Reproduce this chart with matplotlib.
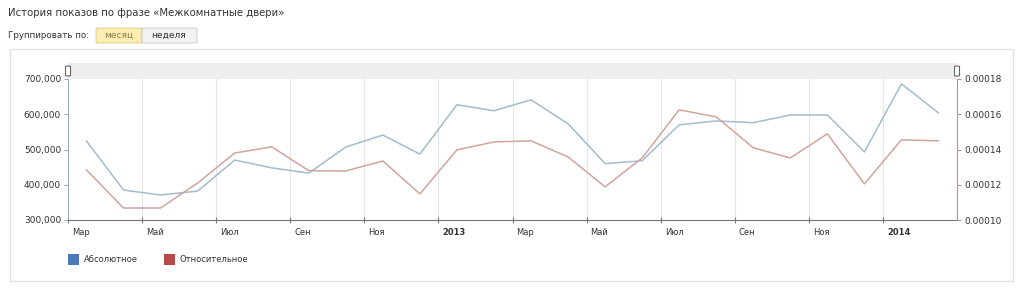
import matplotlib
matplotlib.use("Agg")
import matplotlib.pyplot as plt
import matplotlib.transforms as mtransforms
from matplotlib.patches import Rectangle, FancyBboxPatch
from matplotlib.ticker import FuncFormatter

# Monthly data, Mar 2012 .. Feb 2014
months = ["2012-03", "2012-04", "2012-05", "2012-06", "2012-07", "2012-08",
          "2012-09", "2012-10", "2012-11", "2012-12", "2013-01", "2013-02",
          "2013-03", "2013-04", "2013-05", "2013-06", "2013-07", "2013-08",
          "2013-09", "2013-10", "2013-11", "2013-12", "2014-01", "2014-02"]
absolute = [524000, 385000, 371000, 382000, 470000, 448000, 433000, 507000,
            541000, 487000, 627000, 610000, 641000, 573000, 460000, 468000,
            570000, 581000, 576000, 598000, 598000, 493000, 686000, 604000]
relative = [0.0001284, 0.0001068, 0.0001068, 0.000121, 0.000138, 0.0001415,
            0.000128, 0.0001278, 0.0001335, 0.0001148, 0.0001398, 0.0001443,
            0.0001449, 0.0001358, 0.0001188, 0.0001352, 0.0001625, 0.0001585,
            0.000141, 0.0001352, 0.0001489, 0.0001205, 0.0001455, 0.0001449]
tick_labels = ["Мар", "Май", "Июл", "Сен", "Ноя", "2013",
               "Мар", "Май", "Июл", "Сен", "Ноя", "2014"]
left_ticks = [300000, 400000, 500000, 600000, 700000]
right_ticks = [0.00010, 0.00012, 0.00014, 0.00016, 0.00018]

BLUE_LINE = "#a3bccd"
RED_LINE = "#cfa59f"
TXT = "#333333"

W, H = 1024, 291
fig = plt.figure(figsize=(W / 100, H / 100), dpi=100)
fig.patch.set_facecolor("white")


def fx(px):
    return px / W


def fy(py):
    return 1 - py / H


# header texts
fig.text(fx(8), fy(13), "История показов по фразе «Межкомнатные двери»",
         fontsize=7.3, color=TXT, va="center", ha="left")
fig.text(fx(8), fy(35), "Группировать по:", fontsize=6.3, color=TXT,
         va="center", ha="left")
fig.patches.append(FancyBboxPatch((fx(96), fy(43)), fx(46), 15 / H,
                                  boxstyle="round,pad=0,rounding_size=0.002",
                                  transform=fig.transFigure, facecolor="#fbeeb0",
                                  edgecolor="#d9c98a", linewidth=0.6))
fig.patches.append(FancyBboxPatch((fx(142), fy(43)), fx(55), 15 / H,
                                  boxstyle="round,pad=0,rounding_size=0.002",
                                  transform=fig.transFigure, facecolor="#f2f2f2",
                                  edgecolor="#c8c8c8", linewidth=0.6))
fig.text(fx(119), fy(35.5), "месяц", fontsize=6.5, color="#8a7a4a",
         va="center", ha="center")
fig.text(fx(169), fy(35.5), "неделя", fontsize=6.5, color=TXT,
         va="center", ha="center")

# outer panel
fig.patches.append(Rectangle((fx(10), fy(281)), fx(1003), (281 - 49) / H,
                             transform=fig.transFigure, facecolor="none",
                             edgecolor="#e2e2e2", linewidth=1.0))

# range band above the plot
fig.patches.append(Rectangle((fx(68), fy(79)), fx(889), 16 / H,
                             transform=fig.transFigure, facecolor="#eeeeee",
                             edgecolor="none"))
for hx in (68, 957):
    fig.patches.append(FancyBboxPatch((fx(hx - 2.5), fy(76)), fx(5), 10 / H,
                                      boxstyle="round,pad=0,rounding_size=0.002",
                                      transform=fig.transFigure,
                                      facecolor="white", edgecolor="#666666",
                                      linewidth=0.8))

ax = fig.add_axes([fx(68), fy(220), fx(889), (220 - 79) / H])
ax2 = ax.twinx()

x = [i + 0.5 for i in range(len(months))]
ax.plot(x, absolute, color=BLUE_LINE, linewidth=1.1)
ax2.plot(x, relative, color=RED_LINE, linewidth=1.1)

ax.set_xlim(0, 24)
ax.set_ylim(300000, 700000)
ax2.set_ylim(0.0001, 0.00018)

xt = list(range(0, 24, 2))
ax.set_xticks(xt)
ax.set_xticklabels(tick_labels, fontsize=6, color=TXT, ha="left")
ax.tick_params(axis="x", direction="inout", length=5, color="#777777",
               pad=3)
offset = mtransforms.ScaledTranslation(4 / 100, 0, fig.dpi_scale_trans)
for lbl in ax.get_xticklabels():
    if lbl.get_text() in ("2013", "2014"):
        lbl.set_fontweight("bold")
    lbl.set_transform(lbl.get_transform() + offset)

for t in xt[1:]:
    ax.axvline(t, color="#e6e6e6", linewidth=0.8, zorder=0)

ax.set_yticks(left_ticks)
ax.yaxis.set_major_formatter(FuncFormatter(lambda v, p: f"{int(v):,}"))
ax.tick_params(axis="y", labelsize=6.5, labelcolor=TXT, length=3,
               color="#9aa9b5", pad=2)
ax2.set_yticks(right_ticks)
ax2.yaxis.set_major_formatter(FuncFormatter(lambda v, p: f"{v:.5f}"))
ax2.tick_params(axis="y", labelsize=6.5, labelcolor=TXT, length=3,
                color="#b89590", pad=2)

for a in (ax, ax2):
    a.spines["top"].set_visible(False)
    a.set_facecolor("none")
ax.spines["right"].set_visible(False)
ax.spines["left"].set_color("#9aa9b5")
ax.spines["bottom"].set_color("#777777")
ax2.spines["left"].set_visible(False)
ax2.spines["bottom"].set_visible(False)
ax2.spines["right"].set_color("#b89590")

# legend
fig.patches.append(Rectangle((fx(68), fy(265)), fx(11), 11 / H,
                             transform=fig.transFigure, facecolor="#4a7ab8",
                             edgecolor="none"))
fig.text(fx(84), fy(259.5), "Абсолютное", fontsize=6, color=TXT,
         va="center", ha="left")
fig.patches.append(Rectangle((fx(164), fy(265)), fx(11), 11 / H,
                             transform=fig.transFigure, facecolor="#b8484a",
                             edgecolor="none"))
fig.text(fx(180), fy(259.5), "Относительное", fontsize=6, color=TXT,
         va="center", ha="left")

fig.savefig("out.png", dpi=100)
